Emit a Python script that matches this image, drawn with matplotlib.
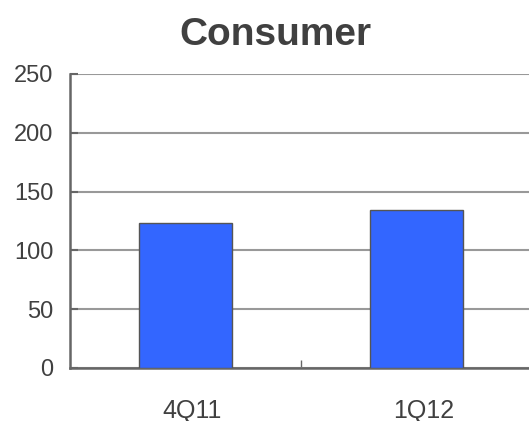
import matplotlib
matplotlib.use('Agg')
import matplotlib.pyplot as plt
import matplotlib.transforms as mtransforms

plt.rcParams['font.family'] = ['Liberation Sans', 'DejaVu Sans']

quarters = ['4Q11', '1Q12']
values = [123, 134]
y_ticks = [0, 50, 100, 150, 200, 250]

text_color = '#404040'

fig = plt.figure(figsize=(5.29, 4.21), dpi=100)
ax = fig.add_axes([70 / 529, 53 / 421, 459 / 529, 294 / 421])

x = range(len(quarters))
ax.bar(x, values, width=0.4, color='#3366FF', edgecolor='#555555', linewidth=1, zorder=3)

# plot area runs off the right edge of the original picture
ax.set_xlim(-0.5, -0.5 + 459 / 231)
ax.set_ylim(0, 250)
ax.set_yticks(y_ticks)
ax.grid(axis='y', color='#999999', linewidth=1.5, zorder=0)
ax.set_axisbelow(True)

ax.spines['top'].set_visible(False)
ax.spines['right'].set_visible(False)
ax.spines['left'].set_color('#666666')
ax.spines['bottom'].set_color('#666666')
ax.spines['left'].set_linewidth(1.8)
ax.spines['bottom'].set_linewidth(1.8)

ax.set_xticks([])
ax.set_xticks([0.5], minor=True)
ax.tick_params(axis='x', which='minor', direction='in', length=6, color='#666666',
               width=1, labelbottom=False)

# category labels, a little right of the bar centres like the original
lab_tr = mtransforms.blended_transform_factory(ax.transData, ax.transAxes) + \
    mtransforms.ScaledTranslation(7 / 100, 0, fig.dpi_scale_trans)
for i, q in zip(x, quarters):
    ax.text(i, -0.145, q, transform=lab_tr, ha='center', va='center',
            fontsize=18, color=text_color, clip_on=False)

ax.tick_params(axis='y', direction='in', length=6, width=1.5, color='#666666',
               labelsize=17, labelcolor=text_color, pad=12)

fig.text(275 / 529, 1 - 35 / 421, 'Consumer', ha='center', va='center',
         fontsize=28, fontweight='bold', color=text_color)

fig.savefig('out.png', dpi=100)
